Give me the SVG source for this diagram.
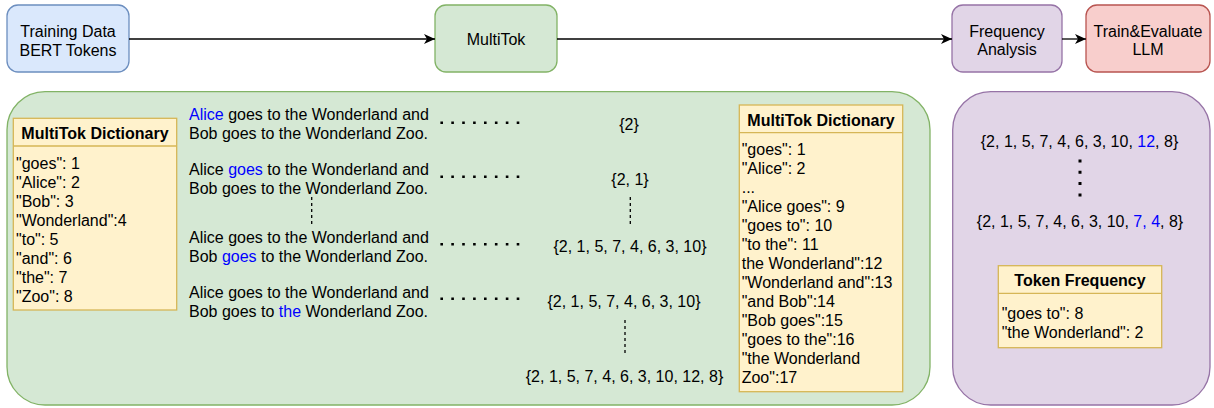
<svg xmlns="http://www.w3.org/2000/svg" width="1214" height="408" viewBox="0 0 1214 408">
<style>
text{font-family:"Liberation Sans",Arial,Helvetica,sans-serif;font-size:16px;fill:#000}
.c{text-anchor:middle}
.b{font-weight:bold}
.blue{fill:#0000ff}
.box{stroke-width:1.3}
.dict{fill:#fff2cc;stroke:#d6b656;stroke-width:1.3}
.edge{stroke:#000;stroke-width:1.3;fill:none}
.dot{stroke:#000;stroke-width:2.6;fill:none;stroke-dasharray:2.6 8.3}
.dash{stroke:#000;stroke-width:1.3;fill:none;stroke-dasharray:3 3}
</style>
<defs>
<marker id="arr" markerUnits="userSpaceOnUse" markerWidth="12" markerHeight="12" viewBox="0 -6 12 12" refX="11" refY="0" orient="auto">
<path d="M0,-5 L11,0 L0,5 L3,0 Z" fill="#000"/>
</marker>
</defs>

<g id="panel-multitok">
<rect x="7" y="91.7" width="923" height="313.3" rx="38" fill="#d5e8d4" stroke="#82b366" stroke-width="1.3"/>
</g>
<g id="panel-frequency">
<rect x="952.7" y="91.7" width="257.3" height="313.3" rx="38" fill="#e1d5e7" stroke="#9673a6" stroke-width="1.3"/>
</g>

<g id="node-training">
<rect x="7" y="5" width="122" height="67" rx="11" fill="#dae8fc" stroke="#6c8ebf" class="box"/>
<text class="c" x="68" y="36.5">Training Data</text>
<text class="c" x="68" y="55.5">BERT Tokens</text>
</g>
<g id="node-multitok">
<rect x="435" y="5" width="122" height="67" rx="11" fill="#d5e8d4" stroke="#82b366" class="box"/>
<text class="c" x="496" y="44.7">MultiTok</text>
</g>
<g id="node-freq">
<rect x="952" y="5" width="110" height="67" rx="11" fill="#e1d5e7" stroke="#9673a6" class="box"/>
<text class="c" x="1007" y="36.5">Frequency</text>
<text class="c" x="1007" y="55.3">Analysis</text>
</g>
<g id="node-train">
<rect x="1086" y="5" width="124" height="67" rx="11" fill="#f8cecc" stroke="#b85450" class="box"/>
<text class="c" x="1148" y="36.5">Train&amp;Evaluate</text>
<text class="c" x="1148" y="55.3">LLM</text>
</g>

<g id="dict-left">
<rect class="dict" x="13.3" y="118.3" width="163.4" height="191.7"/>
<line x1="13.3" y1="146" x2="176.7" y2="146" stroke="#d6b656" stroke-width="1.3"/>
<text class="c b" x="95" y="139">MultiTok Dictionary</text>
<text x="16" y="168.5">"goes": 1</text>
<text x="16" y="187.5">"Alice": 2</text>
<text x="16" y="206.5">"Bob": 3</text>
<text x="16" y="225.5">"Wonderland":4</text>
<text x="16" y="244.5">"to": 5</text>
<text x="16" y="263.5">"and": 6</text>
<text x="16" y="282.5">"the": 7</text>
<text x="16" y="301.5">"Zoo": 8</text>
</g>

<g id="sentence-1">
<text x="189" y="120.2"><tspan class="blue">Alice</tspan> goes to the Wonderland and</text>
<text x="189" y="139.2">Bob goes to the Wonderland Zoo.</text>
</g>
<g id="sentence-2">
<text x="189" y="175.2">Alice <tspan class="blue">goes</tspan> to the Wonderland and</text>
<text x="189" y="194.2">Bob goes to the Wonderland Zoo.</text>
</g>
<g id="sentence-3">
<text x="189" y="243.2">Alice goes to the Wonderland and</text>
<text x="189" y="262.2">Bob <tspan class="blue">goes</tspan> to the Wonderland Zoo.</text>
</g>
<g id="sentence-4">
<text x="189" y="297.7">Alice goes to the Wonderland and</text>
<text x="189" y="316.7">Bob goes to <tspan class="blue">the</tspan> Wonderland Zoo.</text>
</g>

<g id="seq-1"><text class="c" x="629" y="129.7">{2}</text></g>
<g id="seq-2"><text class="c" x="630" y="184.7">{2, 1}</text></g>
<g id="seq-3"><text class="c" x="630" y="252.4">{2, 1, 5, 7, 4, 6, 3, 10}</text></g>
<g id="seq-4"><text class="c" x="624" y="307.4">{2, 1, 5, 7, 4, 6, 3, 10}</text></g>
<g id="seq-5"><text class="c" x="624.5" y="381.7">{2, 1, 5, 7, 4, 6, 3, 10, 12, 8}</text></g>

<g id="dict-right">
<rect class="dict" x="739.3" y="105" width="163.4" height="286.7"/>
<line x1="739.3" y1="132.7" x2="902.7" y2="132.7" stroke="#d6b656" stroke-width="1.3"/>
<text class="c b" x="821" y="125.7">MultiTok Dictionary</text>
<text x="741.7" y="155">"goes": 1</text>
<text x="741.7" y="174">"Alice": 2</text>
<text x="741.7" y="193">...</text>
<text x="741.7" y="212">"Alice goes": 9</text>
<text x="741.7" y="231">"goes to": 10</text>
<text x="741.7" y="250">"to the": 11</text>
<text x="741.7" y="269">the Wonderland":12</text>
<text x="741.7" y="288">"Wonderland and":13</text>
<text x="741.7" y="307">"and Bob":14</text>
<text x="741.7" y="326">"Bob goes":15</text>
<text x="741.7" y="345">"goes to the":16</text>
<text x="741.7" y="364">"the Wonderland</text>
<text x="741.7" y="383">Zoo":17</text>
</g>

<g id="freq-seq-1"><text class="c" x="1079.5" y="146.7">{2, 1, 5, 7, 4, 6, 3, 10, <tspan class="blue">12</tspan>, 8}</text></g>
<g id="freq-seq-2"><text class="c" x="1080" y="227.4">{2, 1, 5, 7, 4, 6, 3, 10, <tspan class="blue">7, 4</tspan>, 8}</text></g>

<g id="token-frequency">
<rect class="dict" x="998.3" y="265.7" width="163.4" height="82"/>
<line x1="998.3" y1="293.3" x2="1161.7" y2="293.3" stroke="#d6b656" stroke-width="1.3"/>
<text class="c b" x="1080" y="286.4">Token Frequency</text>
<text x="1001.7" y="319">"goes to": 8</text>
<text x="1001.7" y="338">"the Wonderland": 2</text>
</g>

<g id="connectors">
<line class="edge" x1="129" y1="39" x2="435" y2="39" marker-end="url(#arr)"/>
<line class="edge" x1="557" y1="39" x2="952" y2="39" marker-end="url(#arr)"/>
<line class="edge" x1="1062" y1="39" x2="1086" y2="39" marker-end="url(#arr)"/>
<line class="dot" x1="440.4" y1="122.7" x2="520" y2="122.7"/>
<line class="dot" x1="440.4" y1="176.7" x2="520" y2="176.7"/>
<line class="dot" x1="440.4" y1="244.3" x2="520" y2="244.3"/>
<line class="dot" x1="440.4" y1="298.7" x2="520" y2="298.7"/>
<line class="dash" x1="311.7" y1="197" x2="311.7" y2="224"/>
<line class="dash" x1="630.3" y1="197" x2="630.3" y2="225"/>
<line class="dash" x1="625" y1="320" x2="625" y2="354"/>
<line stroke="#000" stroke-width="3" stroke-dasharray="3 8.3" x1="1080" y1="159.5" x2="1080" y2="197"/>
</g>
</svg>
